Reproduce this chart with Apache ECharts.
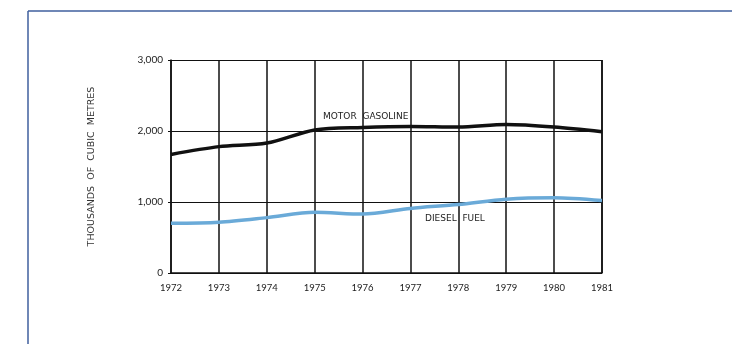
<!DOCTYPE html>
<html><head><meta charset="utf-8">
<script src="https://cdn.jsdelivr.net/npm/echarts@6/dist/echarts.min.js"></script>
<style>html,body{margin:0;padding:0;background:#fff;}#c{width:732px;height:344px;}</style>
</head><body><div id="c"></div>
<script>
const years = ['1972','1973','1974','1975','1976','1977','1978','1979','1980','1981'];
const motorGasoline = [1670, 1780, 1830, 2015, 2050, 2065, 2055, 2090, 2055, 1990];
const dieselFuel = [700, 715, 780, 855, 830, 910, 965, 1040, 1060, 1020];
const yTicks = [0, 1000, 2000, 3000];

const chart = echarts.init(document.getElementById('c'));
const font = '"DejaVu Sans", sans-serif';
const numFont = 'Lato, "Open Sans", sans-serif';
chart.setOption({
  animation: false,
  backgroundColor: '#fff',
  grid: { left: 171, right: 130, top: 60, bottom: 71 },
  xAxis: {
    type: 'category', data: years, boundaryGap: false,
    axisLine: { lineStyle: { color: '#111', width: 1.5 } },
    axisTick: { show: false },
    axisLabel: { color: '#222', fontSize: 9.5, fontFamily: numFont, margin: 10 },
    splitLine: { show: true, lineStyle: { color: '#111', width: 1.5 } }
  },
  yAxis: {
    type: 'value', min: 0, max: 3000, interval: 1000,
    name: 'THOUSANDS  OF  CUBIC  METRES', nameLocation: 'middle', nameGap: 74, nameRotate: 90,
    nameTextStyle: { color: '#333', fontSize: 9.5, fontFamily: font },
    axisLine: { show: true, lineStyle: { color: '#111', width: 1.5 } },
    axisTick: { show: true, length: 3, lineStyle: { color: '#111' } },
    axisLabel: { color: '#222', fontSize: 10, fontFamily: numFont, margin: 8,
      formatter: v => yTicks.includes(v) ? v.toLocaleString('en-US') : '' },
    splitLine: { show: true, lineStyle: { color: '#111', width: 1.2 } }
  },
  series: [
    { name: 'MOTOR GASOLINE', type: 'line', data: motorGasoline, smooth: 0.3, symbol: 'none',
      lineStyle: { color: '#111', width: 3.5 }, z: 5 },
    { name: 'DIESEL FUEL', type: 'line', data: dieselFuel, smooth: 0.3, symbol: 'none',
      lineStyle: { color: '#6aaad8', width: 3.5 }, z: 5 }
  ],
  graphic: [
    { type: 'line', shape: { x1: 28, y1: 11, x2: 732, y2: 11 }, style: { stroke: '#3f5f9e', lineWidth: 1.5 } },
    { type: 'line', shape: { x1: 28, y1: 11, x2: 28, y2: 344 }, style: { stroke: '#3f5f9e', lineWidth: 1.5 } },
    { type: 'line', shape: { x1: 602, y1: 60, x2: 602, y2: 273 }, style: { stroke: '#111', lineWidth: 1.5 } },
    { type: 'text', left: 323, top: 112, z: 10, style: { text: 'MOTOR  GASOLINE', fill: '#222', font: '9px ' + font } },
    { type: 'text', left: 425, top: 214, z: 10, style: { text: 'DIESEL  FUEL', fill: '#222', font: '9px ' + font } }
  ]
});
</script></body></html>
